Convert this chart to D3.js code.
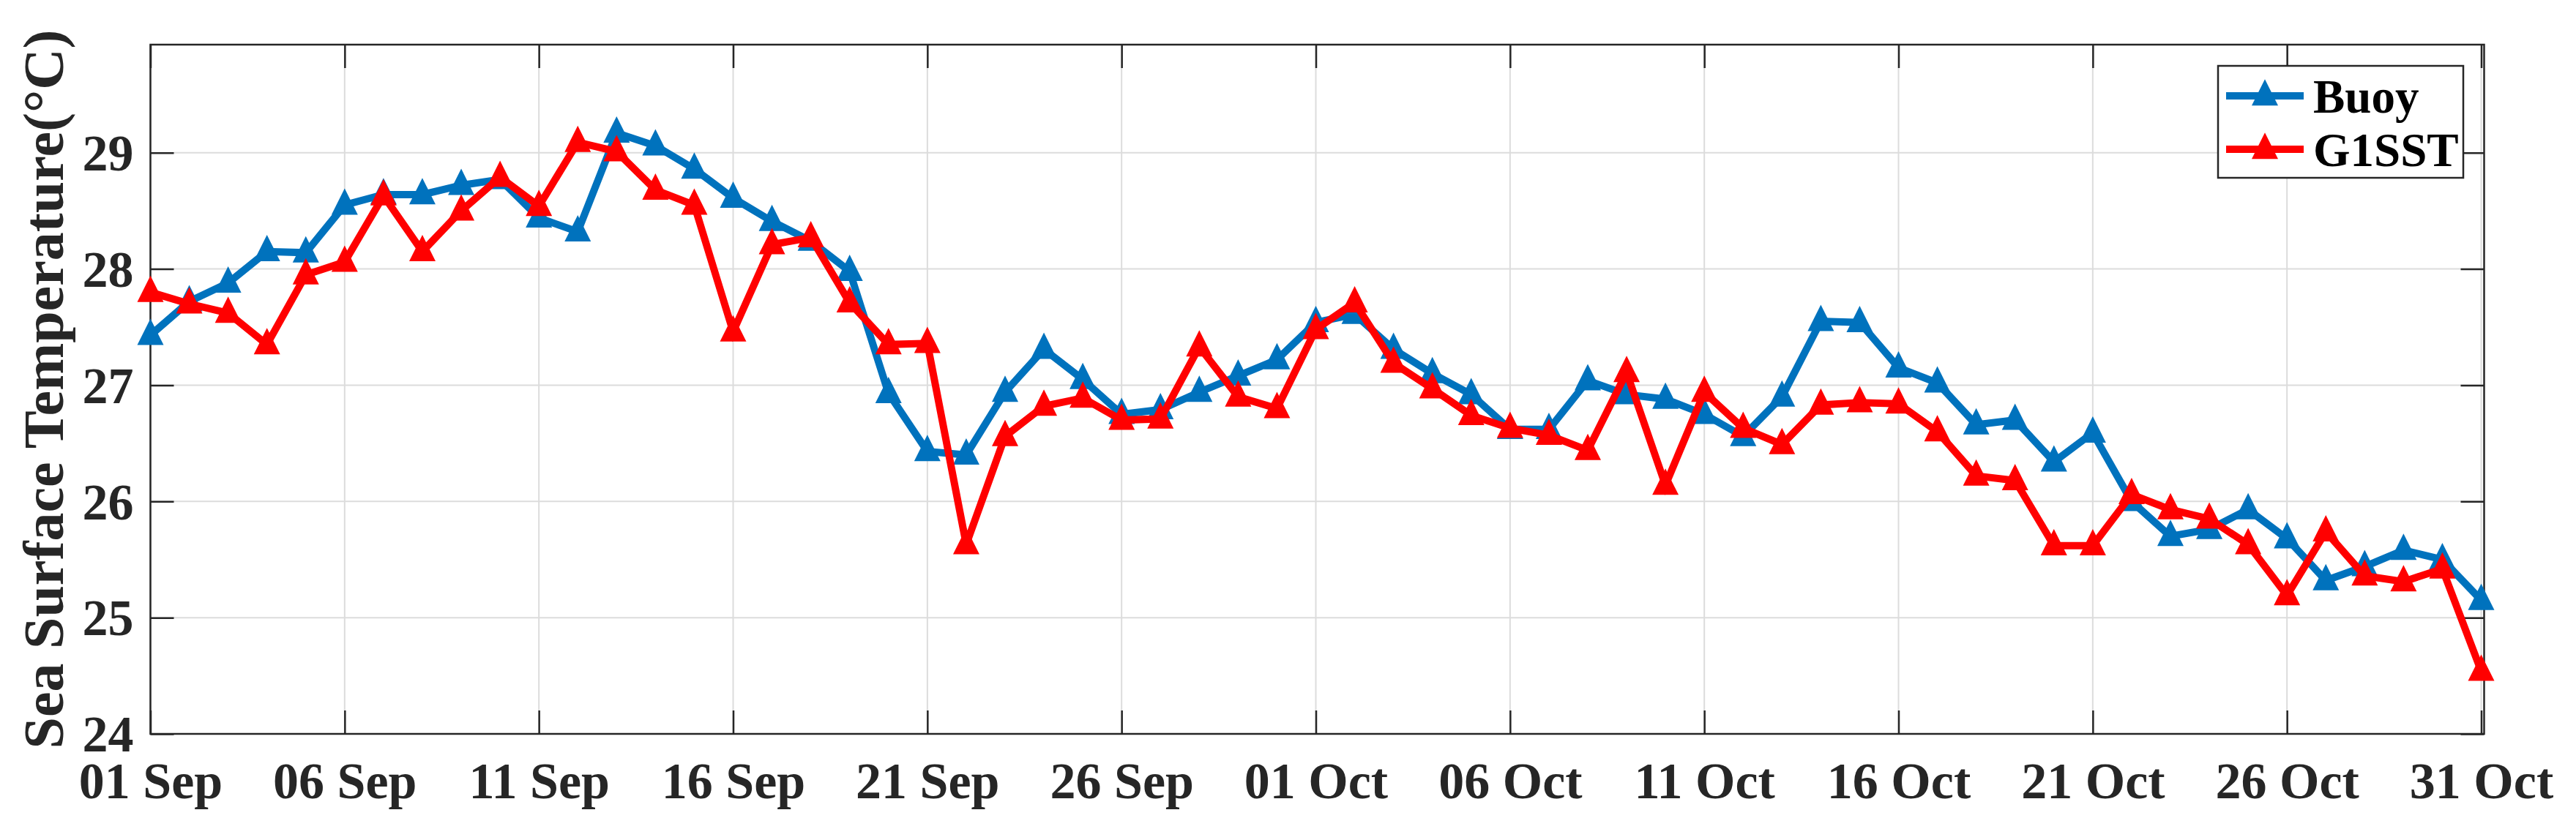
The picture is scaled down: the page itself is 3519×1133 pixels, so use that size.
<!DOCTYPE html>
<html>
<head>
<meta charset="utf-8">
<script src="https://cdn.jsdelivr.net/npm/d3@7"></script>
<style>
  html, body { margin: 0; padding: 0; background: #ffffff; }
  svg { display: block; }
</style>
</head>
<body>
<div id="chart"></div>
<script>
// ---- data (day index 0 = 01 Sep, 60 = 31 Oct) ----
const days = d3.range(0, 61);
const buoy = [27.43, 27.72, 27.88, 28.15, 28.14, 28.55, 28.64, 28.64, 28.72, 28.77,
              28.44, 28.32, 29.17, 29.06, 28.86, 28.61, 28.41, 28.24, 27.98, 26.93,
              26.43, 26.40, 26.94, 27.31, 27.05, 26.75, 26.79, 26.94, 27.08, 27.22,
              27.54, 27.61, 27.31, 27.10, 26.92, 26.62, 26.62, 27.04, 26.92, 26.88,
              26.75, 26.56, 26.90, 27.55, 27.54, 27.15, 27.02, 26.66, 26.70, 26.34,
              26.59, 26.00, 25.70, 25.76, 25.93, 25.68, 25.32, 25.44, 25.58, 25.50,
              25.15];
const g1sst = [27.80, 27.70, 27.62, 27.35, 27.95, 28.06, 28.63, 28.15, 28.50, 28.79,
               28.54, 29.09, 29.01, 28.68, 28.55, 27.46, 28.21, 28.27, 27.71, 27.35,
               27.36, 25.63, 26.56, 26.82, 26.89, 26.70, 26.71, 27.33, 26.90, 26.80,
               27.48, 27.71, 27.19, 26.97, 26.74, 26.63, 26.57, 26.44, 27.11, 26.14,
               26.94, 26.63, 26.49, 26.83, 26.85, 26.84, 26.60, 26.22, 26.18, 25.62,
               25.62, 26.06, 25.93, 25.85, 25.63, 25.19, 25.74, 25.36, 25.31, 25.42,
               24.54];
const xTickDays = [0, 5, 10, 15, 20, 25, 30, 35, 40, 45, 50, 55, 60];
const xTickLabels = ["01 Sep", "06 Sep", "11 Sep", "16 Sep", "21 Sep", "26 Sep",
                     "01 Oct", "06 Oct", "11 Oct", "16 Oct", "21 Oct", "26 Oct", "31 Oct"];
const yTicks = [24, 25, 26, 27, 28, 29];
const seriesNames = ["Buoy", "G1SST"];
const seriesColors = ["#0072BD", "#FF0000"];

(function () {
// ---- layout ----
const W = 3519, H = 1133;
const pL = 205.5, pR = 3393.5, pT = 61, pB = 1003;
const serif = "'Liberation Serif', 'Times New Roman', serif";
const axisColor = "#262626";

const svg = d3.select("#chart").append("svg")
  .attr("width", W).attr("height", H)
  .attr("viewBox", `0 0 ${W} ${H}`);

svg.append("rect").attr("width", W).attr("height", H).attr("fill", "#fff");

const x = d3.scaleLinear().domain([0, 60.075]).range([pL, pR]);
const y = d3.scaleLinear().domain([24, 29.93]).range([pB, pT]);

// grid
const grid = svg.append("g");
grid.selectAll("line.gx").data(xTickDays).join("line").attr("class", "gx")
  .attr("x1", d => x(d)).attr("x2", d => x(d))
  .attr("y1", pT).attr("y2", pB)
  .attr("stroke", "#dcdcdc").attr("stroke-width", 2);
grid.selectAll("line.gy").data(yTicks).join("line").attr("class", "gy")
  .attr("x1", pL).attr("x2", pR)
  .attr("y1", d => y(d)).attr("y2", d => y(d))
  .attr("stroke", "#dcdcdc").attr("stroke-width", 2);

// axes (ticks inside, box on)
const tickLen = 32;
const xAxisB = d3.axisBottom(x).tickValues(xTickDays).tickSizeInner(-tickLen).tickSizeOuter(0)
  .tickFormat((d, i) => xTickLabels[i]);
const xAxisT = d3.axisTop(x).tickValues(xTickDays).tickSizeInner(-tickLen).tickSizeOuter(0).tickFormat("");
const yAxisL = d3.axisLeft(y).tickValues(yTicks).tickSizeInner(-tickLen).tickSizeOuter(0)
  .tickFormat(d3.format("d"));
const yAxisR = d3.axisRight(y).tickValues(yTicks).tickSizeInner(-tickLen).tickSizeOuter(0).tickFormat("");

function styleAxis(g) {
  g.select(".domain").remove();
  g.selectAll(".tick line").attr("stroke", axisColor).attr("stroke-width", 2.5);
  g.selectAll(".tick text").attr("fill", axisColor)
    .attr("font-family", serif).attr("font-weight", "bold").attr("font-size", 70);
}
svg.append("g").attr("transform", `translate(0,${pB})`).call(xAxisB).call(styleAxis)
  .selectAll(".tick text").attr("dy", 0).attr("y", 88);
svg.append("g").attr("transform", `translate(0,${pT})`).call(xAxisT).call(styleAxis);
svg.append("g").attr("transform", `translate(${pL},0)`).call(yAxisL).call(styleAxis)
  .selectAll(".tick text").attr("x", -23).attr("dy", "0.34em");
svg.append("g").attr("transform", `translate(${pR},0)`).call(yAxisR).call(styleAxis);

// box
svg.append("rect").attr("x", pL).attr("y", pT)
  .attr("width", pR - pL).attr("height", pB - pT)
  .attr("fill", "none").attr("stroke", axisColor).attr("stroke-width", 2.5);

// y label
svg.append("text")
  .attr("transform", `translate(86,${(pT + pB) / 2}) rotate(-90)`)
  .attr("text-anchor", "middle")
  .attr("font-family", serif).attr("font-weight", "bold").attr("font-size", 78)
  .attr("fill", axisColor)
  .text("Sea Surface Temperature(°C)");

// series
const tri = (cx, cy) => {
  const w = 36, h = 36, up = 0.63 * h, dn = h - up;
  return `M${cx},${cy - up}L${cx + w / 2},${cy + dn}L${cx - w / 2},${cy + dn}Z`;
};
const line = d3.line().x((d, i) => x(days[i])).y(d => y(d));
const plot = svg.append("g");
[buoy, g1sst].forEach((vals, si) => {
  plot.append("path").datum(vals)
    .attr("d", line).attr("fill", "none")
    .attr("stroke", seriesColors[si]).attr("stroke-width", 10)
    .attr("stroke-linejoin", "miter").attr("stroke-miterlimit", 3);
  plot.selectAll(null).data(vals).join("path")
    .attr("d", (d, i) => tri(x(days[i]), y(d)))
    .attr("fill", seriesColors[si]);
});

// legend
const lg = svg.append("g");
lg.append("rect").attr("x", 3030).attr("y", 90).attr("width", 335).attr("height", 153)
  .attr("fill", "#fff").attr("stroke", axisColor).attr("stroke-width", 2.5);
const legY = [131, 204];
seriesNames.forEach((name, i) => {
  lg.append("line").attr("x1", 3041).attr("x2", 3147)
    .attr("y1", legY[i]).attr("y2", legY[i])
    .attr("stroke", seriesColors[i]).attr("stroke-width", 10);
  lg.append("path").attr("d", tri(3094, legY[i])).attr("fill", seriesColors[i]);
  lg.append("text").attr("x", 3160).attr("y", legY[i] + 23)
    .attr("font-family", serif).attr("font-weight", "bold").attr("font-size", 65)
    .attr("fill", "#000").text(name);
});
})();
</script>
</body>
</html>
